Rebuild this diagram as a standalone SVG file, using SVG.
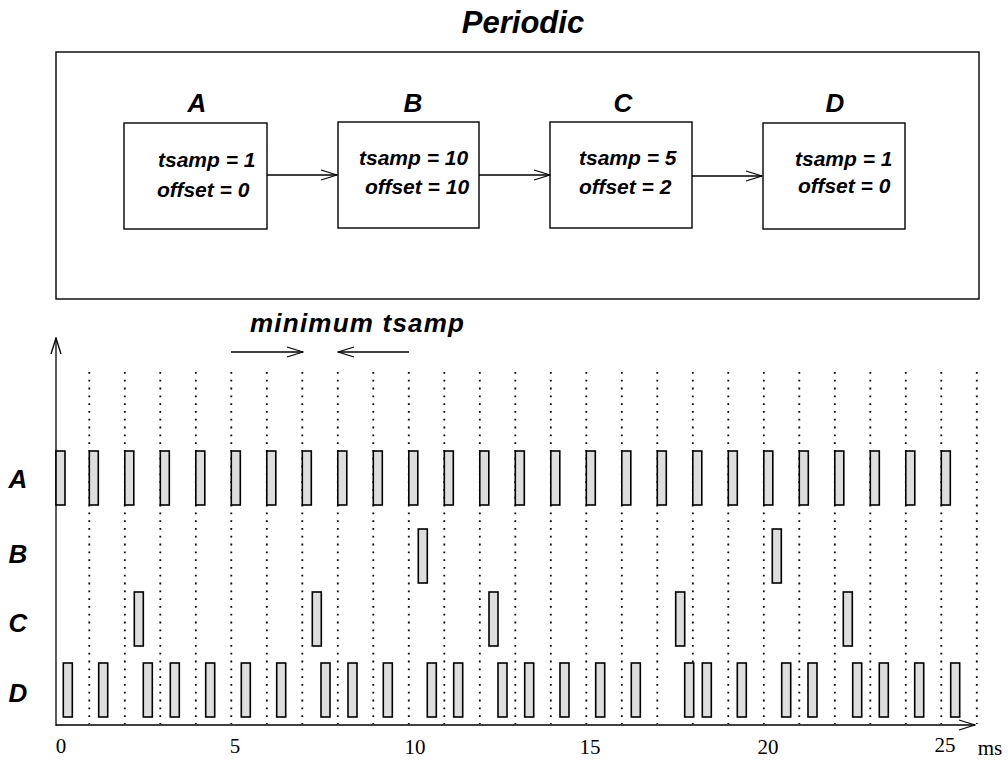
<svg xmlns="http://www.w3.org/2000/svg" width="1008" height="760" viewBox="0 0 1008 760">
<defs>
<style>
.hb{font-family:"Liberation Sans",Arial,sans-serif;font-weight:bold;font-style:italic;fill:#000}
.lbl{font-size:26px;text-anchor:middle}
.txt{font-size:21px}
.tick{font-family:"Liberation Serif","Times New Roman",serif;font-size:21px;text-anchor:middle;fill:#000}
.box{fill:#fff;stroke:#000;stroke-width:1.4}
.ln{stroke:#000;stroke-width:1.3;fill:none}
.dot{stroke:#000;stroke-width:1.8;stroke-dasharray:1.8 6;fill:none}
.bar{fill:#dedede;stroke:#000;stroke-width:1.6}
</style>
<marker id="arr" markerWidth="18" markerHeight="12" refX="17" refY="6" orient="auto" markerUnits="userSpaceOnUse">
<path d="M1,1 L17,6 L1,11" fill="none" stroke="#000" stroke-width="1.3"/>
</marker>
</defs>
<rect width="1008" height="760" fill="#fff"/>

<text class="hb" x="523" y="33" font-size="31" text-anchor="middle">Periodic</text>
<rect id="periodic-frame" x="56" y="52" width="923" height="247" class="box"/>

<g id="node-A">
<text class="hb lbl" x="197" y="112">A</text>
<rect x="124" y="123" width="143" height="106" class="box"/>
<text class="hb txt" x="158" y="167">tsamp = 1</text>
<text class="hb txt" x="157" y="197">offset = 0</text>
</g>
<g id="node-B">
<text class="hb lbl" x="413" y="112">B</text>
<rect x="338" y="122" width="141" height="106" class="box"/>
<text class="hb txt" x="359" y="165">tsamp = 10</text>
<text class="hb txt" x="365" y="194">offset = 10</text>
</g>
<g id="node-C">
<text class="hb lbl" x="623" y="112">C</text>
<rect x="550" y="122" width="142" height="106" class="box"/>
<text class="hb txt" x="579" y="165">tsamp = 5</text>
<text class="hb txt" x="579" y="194">offset = 2</text>
</g>
<g id="node-D">
<text class="hb lbl" x="835" y="112">D</text>
<rect x="763" y="123" width="142" height="106" class="box"/>
<text class="hb txt" x="795" y="166">tsamp = 1</text>
<text class="hb txt" x="798" y="193">offset = 0</text>
</g>

<g id="connectors">
<line x1="267" y1="175" x2="337" y2="175" class="ln" marker-end="url(#arr)"/>
<line x1="479" y1="175" x2="550" y2="175" class="ln" marker-end="url(#arr)"/>
<line x1="692" y1="176" x2="762" y2="176" class="ln" marker-end="url(#arr)"/>
</g>

<g id="min-tsamp">
<text class="hb" x="250" y="332" font-size="26" textLength="214" lengthAdjust="spacing">minimum tsamp</text>
<line x1="231" y1="352" x2="303" y2="352" class="ln" marker-end="url(#arr)"/>
<line x1="409" y1="352" x2="338" y2="352" class="ln" marker-end="url(#arr)"/>
</g>

<g id="grid">
<line class="dot" x1="89.3" y1="372" x2="89.3" y2="724"/>
<line class="dot" x1="124.8" y1="372" x2="124.8" y2="724"/>
<line class="dot" x1="160.3" y1="372" x2="160.3" y2="724"/>
<line class="dot" x1="195.8" y1="372" x2="195.8" y2="724"/>
<line class="dot" x1="231.3" y1="372" x2="231.3" y2="724"/>
<line class="dot" x1="266.8" y1="372" x2="266.8" y2="724"/>
<line class="dot" x1="302.3" y1="372" x2="302.3" y2="724"/>
<line class="dot" x1="337.8" y1="372" x2="337.8" y2="724"/>
<line class="dot" x1="373.3" y1="372" x2="373.3" y2="724"/>
<line class="dot" x1="408.8" y1="372" x2="408.8" y2="724"/>
<line class="dot" x1="444.3" y1="372" x2="444.3" y2="724"/>
<line class="dot" x1="479.8" y1="372" x2="479.8" y2="724"/>
<line class="dot" x1="515.3" y1="372" x2="515.3" y2="724"/>
<line class="dot" x1="550.8" y1="372" x2="550.8" y2="724"/>
<line class="dot" x1="586.3" y1="372" x2="586.3" y2="724"/>
<line class="dot" x1="621.8" y1="372" x2="621.8" y2="724"/>
<line class="dot" x1="657.3" y1="372" x2="657.3" y2="724"/>
<line class="dot" x1="692.8" y1="372" x2="692.8" y2="724"/>
<line class="dot" x1="728.3" y1="372" x2="728.3" y2="724"/>
<line class="dot" x1="763.8" y1="372" x2="763.8" y2="724"/>
<line class="dot" x1="799.3" y1="372" x2="799.3" y2="724"/>
<line class="dot" x1="834.8" y1="372" x2="834.8" y2="724"/>
<line class="dot" x1="870.3" y1="372" x2="870.3" y2="724"/>
<line class="dot" x1="905.8" y1="372" x2="905.8" y2="724"/>
<line class="dot" x1="941.3" y1="372" x2="941.3" y2="724"/>
<line class="dot" x1="976.8" y1="372" x2="976.8" y2="724"/>
</g>

<g id="axes">
<line x1="56" y1="726" x2="56" y2="338" class="ln" marker-end="url(#arr)"/>
<line x1="56" y1="725" x2="975" y2="725" class="ln" marker-end="url(#arr)"/>
</g>

<g id="row-A">
<text class="hb lbl" x="18" y="488">A</text>
<rect class="bar" x="56" y="451" width="9" height="54"/>
<rect class="bar" x="89.3" y="451" width="9" height="54"/>
<rect class="bar" x="124.8" y="451" width="9" height="54"/>
<rect class="bar" x="160.3" y="451" width="9" height="54"/>
<rect class="bar" x="195.8" y="451" width="9" height="54"/>
<rect class="bar" x="231.3" y="451" width="9" height="54"/>
<rect class="bar" x="266.8" y="451" width="9" height="54"/>
<rect class="bar" x="302.3" y="451" width="9" height="54"/>
<rect class="bar" x="337.8" y="451" width="9" height="54"/>
<rect class="bar" x="373.3" y="451" width="9" height="54"/>
<rect class="bar" x="408.8" y="451" width="9" height="54"/>
<rect class="bar" x="444.3" y="451" width="9" height="54"/>
<rect class="bar" x="479.8" y="451" width="9" height="54"/>
<rect class="bar" x="515.3" y="451" width="9" height="54"/>
<rect class="bar" x="550.8" y="451" width="9" height="54"/>
<rect class="bar" x="586.3" y="451" width="9" height="54"/>
<rect class="bar" x="621.8" y="451" width="9" height="54"/>
<rect class="bar" x="657.3" y="451" width="9" height="54"/>
<rect class="bar" x="692.8" y="451" width="9" height="54"/>
<rect class="bar" x="728.3" y="451" width="9" height="54"/>
<rect class="bar" x="763.8" y="451" width="9" height="54"/>
<rect class="bar" x="799.3" y="451" width="9" height="54"/>
<rect class="bar" x="834.8" y="451" width="9" height="54"/>
<rect class="bar" x="870.3" y="451" width="9" height="54"/>
<rect class="bar" x="905.8" y="451" width="9" height="54"/>
<rect class="bar" x="941.3" y="451" width="9" height="54"/>
</g>

<g id="row-B">
<text class="hb lbl" x="18" y="563">B</text>
<rect class="bar" x="418.3" y="529" width="9" height="54"/>
<rect class="bar" x="772.3" y="529" width="9" height="54"/>
</g>

<g id="row-C">
<text class="hb lbl" x="18" y="632">C</text>
<rect class="bar" x="134.3" y="592" width="9" height="54"/>
<rect class="bar" x="312.3" y="592" width="9" height="54"/>
<rect class="bar" x="489" y="592" width="9" height="54"/>
<rect class="bar" x="675.7" y="592" width="9" height="54"/>
<rect class="bar" x="843.3" y="592" width="9" height="54"/>
</g>

<g id="row-D">
<text class="hb lbl" x="18" y="702">D</text>
<rect class="bar" x="63.3" y="663" width="9" height="54"/>
<rect class="bar" x="98.7" y="663" width="9" height="54"/>
<rect class="bar" x="143.3" y="663" width="9" height="54"/>
<rect class="bar" x="170.3" y="663" width="9" height="54"/>
<rect class="bar" x="205.7" y="663" width="9" height="54"/>
<rect class="bar" x="241.3" y="663" width="9" height="54"/>
<rect class="bar" x="276.7" y="663" width="9" height="54"/>
<rect class="bar" x="321" y="663" width="9" height="54"/>
<rect class="bar" x="348" y="663" width="9" height="54"/>
<rect class="bar" x="383.3" y="663" width="9" height="54"/>
<rect class="bar" x="427.3" y="663" width="9" height="54"/>
<rect class="bar" x="453.7" y="663" width="9" height="54"/>
<rect class="bar" x="498" y="663" width="9" height="54"/>
<rect class="bar" x="524.7" y="663" width="9" height="54"/>
<rect class="bar" x="560" y="663" width="9" height="54"/>
<rect class="bar" x="595.7" y="663" width="9" height="54"/>
<rect class="bar" x="631.3" y="663" width="9" height="54"/>
<rect class="bar" x="684.7" y="663" width="9" height="54"/>
<rect class="bar" x="702.3" y="663" width="9" height="54"/>
<rect class="bar" x="737.3" y="663" width="9" height="54"/>
<rect class="bar" x="781.7" y="663" width="9" height="54"/>
<rect class="bar" x="808" y="663" width="9" height="54"/>
<rect class="bar" x="852.7" y="663" width="9" height="54"/>
<rect class="bar" x="879.3" y="663" width="9" height="54"/>
<rect class="bar" x="914.7" y="663" width="9" height="54"/>
<rect class="bar" x="950.7" y="663" width="9" height="54"/>
</g>

<g id="ticks">
<text class="tick" x="61" y="753">0</text>
<text class="tick" x="235" y="753">5</text>
<text class="tick" x="415" y="754">10</text>
<text class="tick" x="590" y="754">15</text>
<text class="tick" x="768" y="754">20</text>
<text class="tick" x="945" y="752">25</text>
<text class="tick" x="990" y="755" font-size="19">ms</text>
</g>
</svg>
